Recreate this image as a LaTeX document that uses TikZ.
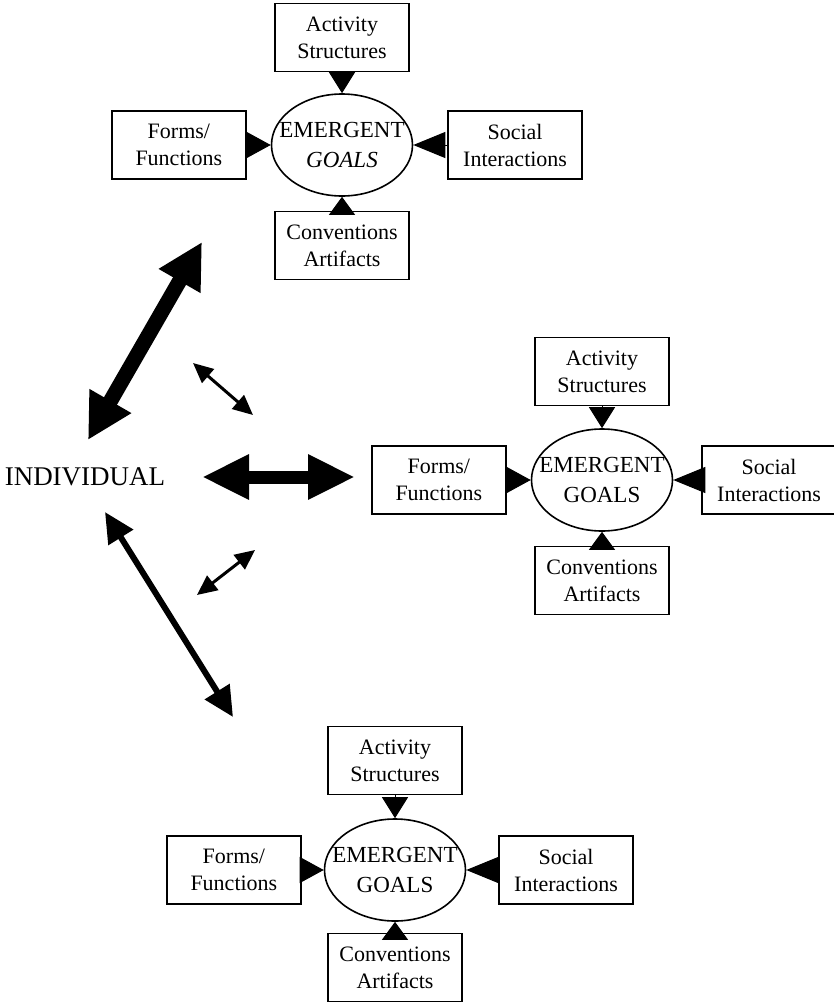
\documentclass[tikz,border=0pt]{standalone}
\usepackage{fontspec}
\setmainfont{Liberation Serif}
\usetikzlibrary{positioning,arrows.meta,shapes.geometric}

\tikzset{
  goal/.style={draw, ellipse, line width=1.6pt, inner xsep=-13pt, inner ysep=0pt,
    minimum width=141pt, minimum height=102pt, align=center,
    font=\fontsize{23}{30}\selectfont},
  factor/.style={draw, rectangle, line width=1.6pt, inner sep=0pt,
    minimum width=134pt, minimum height=68pt, align=center,
    font=\fontsize{22}{27}\selectfont},
  feed/.style={line width=1pt, -{Triangle[length=#1,width=26pt]}},
  link/.style n args={3}{line width=#1,
    {Triangle[length=#2,width=#3]}-{Triangle[length=#2,width=#3]}}
}

\begin{document}
\begin{tikzpicture}[x=1pt, y=-1pt]
\useasboundingbox (0,0) rectangle (834,1002);

%Declare nodes.
\node[font=\fontsize{27}{30}\selectfont] (indiv) at (85,477) {INDIVIDUAL};

% top cluster
\node[goal] (goalA) at (342,145) {EMERGENT\\\textit{GOALS}};
\node[factor, above=21pt of goalA] (actA) {Activity\\Structures};
\node[factor, left=24pt of goalA] (formA) {Forms/\\Functions};
\node[factor, right=34pt of goalA] (socA) {Social\\Interactions};
\node[factor, below=14pt of goalA] (convA) {Conventions\\Artifacts};

% middle cluster
\node[goal] (goalB) at (602,480) {EMERGENT\\GOALS};
\node[factor, above=22pt of goalB] (actB) {Activity\\Structures};
\node[factor, left=24pt of goalB] (formB) {Forms/\\Functions};
\node[factor, right=28pt of goalB] (socB) {Social\\Interactions};
\node[factor, below=14pt of goalB] (convB) {Conventions\\Artifacts};

% bottom cluster
\node[goal] (goalC) at (395,870) {EMERGENT\\GOALS};
\node[factor, above=23pt of goalC] (actC) {Activity\\Structures};
\node[factor, left=22pt of goalC] (formC) {Forms/\\Functions};
\node[factor, right=32pt of goalC] (socC) {Social\\Interactions};
\node[factor, below=11pt of goalC] (convC) {Conventions\\Artifacts};

%Free ends of the links.
\coordinate (upLo) at (88,440);
\coordinate (upHi) at (202,242);
\coordinate (midL) at (202,477);
\coordinate (midR) at (355,477);
\coordinate (dnHi) at (105,512);
\coordinate (dnLo) at (233,717);
\coordinate (smA1) at (193,363);
\coordinate (smA2) at (253,415);
\coordinate (smB1) at (197,595);
\coordinate (smB2) at (255,550);

%Setup edges.
\foreach \g/\a/\f/\s/\c in {goalA/actA/formA/socA/convA,
                            goalB/actB/formB/socB/convB,
                            goalC/actC/formC/socC/convC} {
  \draw[feed=21pt] (\a) -- (\g);
  \draw[feed=24pt] (\f) -- (\g);
  \draw[feed=32pt] (\s) -- (\g);
  \draw[feed=18pt] (\c) -- (\g);
}

\draw[link={15pt}{45pt}{45pt}] (upLo) -- (upHi);
\draw[link={13pt}{47pt}{42pt}] (midL) -- (midR);
\draw[link={6pt}{30pt}{28pt}] (dnHi) -- (dnLo);
\draw[link={3pt}{20pt}{18pt}] (smA1) -- (smA2);
\draw[link={3pt}{20pt}{18pt}] (smB1) -- (smB2);

\end{tikzpicture}
\end{document}
